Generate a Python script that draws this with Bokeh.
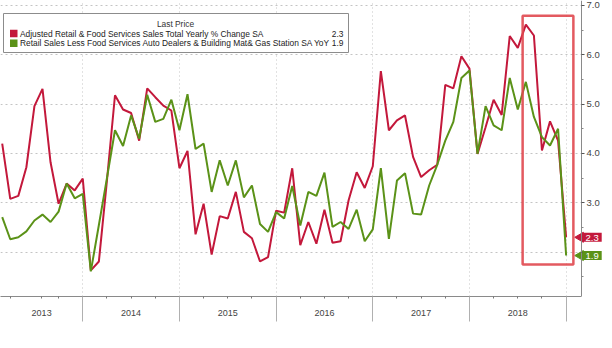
import math
import pandas as pd
from bokeh.plotting import figure
from bokeh.models import Range1d, FixedTicker, BoxAnnotation, Label, PrintfTickFormatter
from bokeh.embed import file_html
from bokeh.resources import INLINE

# ---------------- data ----------------
months = [d.strftime("%Y-%m") for d in pd.date_range("2013-02-01", "2018-12-01", freq="MS")]

retail_total = [
    4.20, 3.08, 3.14, 3.72, 4.96, 5.31, 3.82, 2.98, 3.39, 3.25, 3.49,
    1.63, 1.81, 3.45, 5.18, 4.89, 4.82, 4.26, 5.32, 5.14, 4.97, 4.87, 3.70,
    4.05, 2.36, 2.98, 1.95, 2.73, 2.68, 3.22, 2.41, 2.28, 1.81, 1.90, 2.84,
    2.80, 3.70, 2.14, 2.61, 2.17, 2.86, 2.19, 2.22, 3.05, 3.62, 3.30, 3.74,
    5.67, 4.47, 4.67, 4.77, 3.93, 3.52, 3.66, 3.77, 5.39, 5.32, 5.97, 5.72,
    3.99, 4.53, 5.09, 4.78, 6.38, 6.14, 6.61, 6.39, 4.06, 4.65, 4.26, 2.30,
]
retail_control = [
    2.71, 2.26, 2.30, 2.42, 2.64, 2.76, 2.61, 2.82, 3.39, 3.09, 3.18,
    1.61, 2.55, 3.50, 4.47, 4.15, 4.77, 4.30, 5.19, 4.64, 4.70, 5.09, 4.47,
    5.20, 4.09, 4.20, 3.22, 3.86, 3.35, 3.86, 3.11, 3.35, 2.57, 2.41, 2.81,
    2.68, 3.34, 2.54, 3.22, 3.14, 3.61, 2.51, 2.61, 2.47, 2.86, 2.22, 2.46,
    3.70, 2.27, 3.45, 3.60, 2.78, 2.76, 3.35, 3.77, 4.26, 4.64, 5.53, 5.68,
    3.99, 4.96, 4.57, 4.47, 5.53, 4.89, 5.45, 4.74, 4.33, 4.16, 4.50, 1.93,
]
series_names = [
    "Adjusted Retail & Food Services Sales Total Yearly % Change SA",
    "Retail Sales Less Food Services Auto Dealers & Building Mat& Gas Station SA YoY",
]
year_labels = ["2013", "2014", "2015", "2016", "2017", "2018"]
y_ticks = [2, 3, 4, 5, 6, 7]

# ---------------- style / layout ----------------
RED = "#c3183b"
GREEN = "#5b9218"
AXW = 581            # pixel position of the price axis
FW, FH = 612, 296    # frame covers the full width; the axis is drawn at AXW
X0, X1 = 2013.149, 2019.159          # data span from left edge to the price axis
XS = (X1 - X0) / AXW                  # years per pixel
XW = X0 + FW * XS
Y0, Y1 = 1.10, 7.10
FONT = "Liberation Sans"

# month-end positions in fractional years
x = [int(m[:4]) + int(m[5:]) / 12 for m in months]


def px_x(px):
    return X0 + px * XS


def px_y(py):
    return Y1 - py / FH * (Y1 - Y0)


p = figure(frame_width=FW, frame_height=FH,
           x_range=Range1d(X0, XW), y_range=Range1d(Y0, Y1),
           y_axis_location="right", output_backend="svg", toolbar_location=None,
           min_border_left=0, min_border_top=0, min_border_right=0, min_border_bottom=52)
p.outline_line_color = None
p.background_fill_color = "white"
p.border_fill_color = "white"

# --- price axis (right side, drawn at the axis position inside the frame)
ya = p.yaxis[0]
ya.fixed_location = X1
ya.ticker = FixedTicker(ticks=y_ticks, minor_ticks=[t + 0.5 for t in range(1, 7)])
ya.formatter = PrintfTickFormatter(format="%.1f")
ya.major_label_overrides = {2: ""}
ya.axis_line_color = "#8a8a8a"
ya.major_tick_line_color = "#555555"
ya.major_tick_out = 3
ya.major_tick_in = 0
ya.minor_tick_line_color = "#888888"
ya.minor_tick_out = 2
ya.minor_tick_in = 0
ya.major_label_standoff = 2
ya.major_label_text_font = FONT
ya.major_label_text_font_size = "9.5px"
ya.major_label_text_color = "#444444"

# --- bottom axis
first_mid = (X0 + 2014) / 2
label_pos = [first_mid] + [y + 0.5 for y in range(2014, 2019)]
quarter_pos = [y + q for y in range(2013, 2019) for q in (0.25, 0.5, 0.75)]
quarter_pos = [q for q in quarter_pos if q != 2013.5]
xticks = sorted(set(label_pos) | set(quarter_pos))
overrides = {t: "" for t in xticks}
for t, lab in zip(label_pos, year_labels):
    overrides[t] = lab
year_bounds = list(range(2014, 2020))

xa = p.xaxis[0]
xa.bounds = (X0, X1)
xa.ticker = FixedTicker(ticks=xticks, minor_ticks=year_bounds)
xa.major_label_overrides = overrides
xa.axis_line_color = "#8a8a8a"
xa.major_tick_line_color = "#777777"
xa.major_tick_out = 2
xa.major_tick_in = 0
xa.minor_tick_line_color = "#b0b0b0"
xa.minor_tick_out = 25
xa.minor_tick_in = 0
xa.major_label_standoff = -12
xa.major_label_text_font = FONT
xa.major_label_text_font_size = "9px"
xa.major_label_text_color = "#444444"

# --- grids
p.xgrid[0].ticker = FixedTicker(ticks=year_bounds)
p.xgrid[0].grid_line_color = "#c4c4c4"
p.xgrid[0].grid_line_dash = "1 3"
p.ygrid[0].ticker = FixedTicker(ticks=y_ticks)
p.ygrid[0].grid_line_color = "#c4c4c4"
p.ygrid[0].grid_line_dash = "2 3"
# keep grid lines from running past the price axis
p.add_layout(BoxAnnotation(left=X1, fill_color="white", fill_alpha=1,
                           line_color=None, level="underlay"))

# --- series
p.line(x, retail_total, line_color=RED, line_width=2)
p.line(x, retail_control, line_color=GREEN, line_width=2)

# --- highlight box
p.add_layout(BoxAnnotation(left=2018.55, right=2019.075, top=6.79, bottom=1.75,
                           fill_alpha=0, line_color="#e0484f", line_alpha=0.9,
                           line_width=2.5))

# --- legend
p.add_layout(BoxAnnotation(left=px_x(3), right=px_x(348), top=px_y(13), bottom=px_y(52),
                           fill_color="white", fill_alpha=1,
                           line_color="#8c8c8c", line_alpha=1, line_width=1))
p.add_layout(Label(x=px_x(175), y=px_y(23), text="Last Price", text_align="center",
                   text_baseline="middle", text_font=FONT, text_font_size="8.4px",
                   text_color="#333333"))
last_vals = [retail_total[-1], retail_control[-1]]
for i, (name, col, val) in enumerate(zip(series_names, [RED, GREEN], last_vals)):
    ry = 33 + i * 9.7
    p.add_layout(BoxAnnotation(left=px_x(9.5), right=px_x(17), top=px_y(ry - 3.7),
                               bottom=px_y(ry + 3.7), fill_color=col, fill_alpha=1,
                               line_color=None))
    p.add_layout(Label(x=px_x(19.5), y=px_y(ry), text=name, text_align="left",
                       text_baseline="middle", text_font=FONT, text_font_size="8.4px",
                       text_color="#222222"))
    p.add_layout(Label(x=px_x(343), y=px_y(ry), text=f"{val:.1f}", text_align="right",
                       text_baseline="middle", text_font=FONT, text_font_size="8.4px",
                       text_color="#222222"))
    # value tag next to the price axis
    p.scatter([px_x(580)], [val], marker="triangle", angle=math.pi / 2, size=10,
              fill_color=col, line_color=col)
    p.add_layout(Label(x=px_x(582), y=val, text=f"{val:.1f}", text_align="left",
                       text_baseline="middle", text_font=FONT, text_font_size="9.5px",
                       text_color="white", background_fill_color=col,
                       background_fill_alpha=1,
                       padding=dict(left=3, right=3, top=2, bottom=1)))

open("out.html", "w").write(file_html(p, INLINE))
